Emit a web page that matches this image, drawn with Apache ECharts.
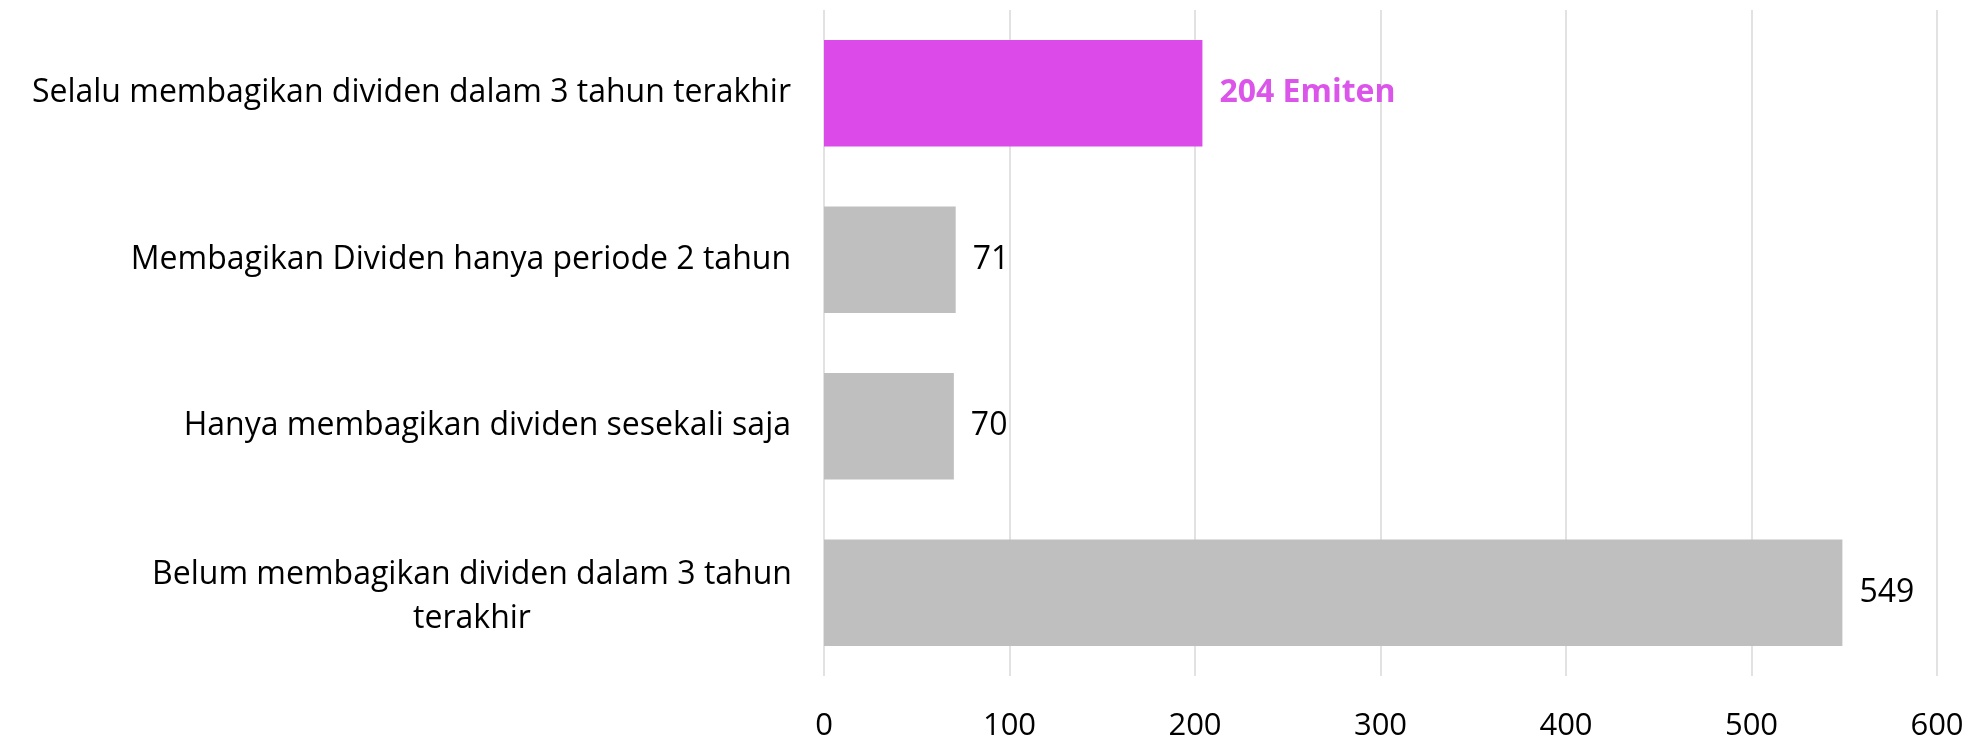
<!DOCTYPE html>
<html>
<head>
<meta charset="utf-8">
<script src="https://cdn.jsdelivr.net/npm/echarts@6/dist/echarts.min.js"></script>
<style>
html,body{margin:0;padding:0;background:#fff;}
#chart{width:1976px;height:742px;}
</style>
</head>
<body>
<div id="chart"></div>
<script>
const categories = [
  'Selalu membagikan dividen dalam 3 tahun terakhir',
  'Membagikan Dividen hanya periode 2 tahun',
  'Hanya membagikan dividen sesekali saja',
  'Belum membagikan dividen dalam 3 tahun\nterakhir'
];
const values = [204, 71, 70, 549];
const highlightIndex = 0;
const highlightUnit = 'Emiten';
const xTicks = [0, 100, 200, 300, 400, 500, 600];

const FONT = 'Open Sans';
const chart = echarts.init(document.getElementById('chart'));
chart.setOption({
  backgroundColor: '#ffffff',
  animation: false,
  grid: { left: 824, right: 39, top: 10, bottom: 66, containLabel: false },
  xAxis: {
    type: 'value',
    min: xTicks[0],
    max: xTicks[xTicks.length - 1],
    interval: xTicks[1] - xTicks[0],
    axisLine: { show: false },
    axisTick: { show: false },
    splitLine: { show: true, lineStyle: { color: '#D9D9D9', width: 1.5 } },
    axisLabel: { color: '#000', fontFamily: FONT, fontSize: 31, margin: 35 }
  },
  yAxis: {
    type: 'category',
    inverse: true,
    data: categories,
    axisLine: { show: false },
    axisTick: { show: false },
    axisLabel: {
      color: '#000',
      fontFamily: FONT,
      fontSize: 32,
      margin: 33,
      lineHeight: 44,
      formatter: function (v) {
        if (v.indexOf('\n') >= 0) return '{c|' + v + '}';
        return v;
      },
      rich: {
        c: { align: 'center', width: 638, fontFamily: FONT, fontSize: 32, lineHeight: 44, color: '#000', padding: [8, 0, 0, 0] }
      }
    }
  },
  series: [{
    type: 'bar',
    barWidth: '64%',
    data: values.map((v, i) => ({
      value: v,
      itemStyle: { color: i === highlightIndex ? '#DC4BEA' : '#BFBFBF' },
      label: i === highlightIndex ? { color: '#DB55EA', fontWeight: 'bold' } : {}
    })),
    label: {
      show: true,
      position: 'right',
      distance: 17,
      fontFamily: FONT,
      fontSize: 32,
      color: '#000',
      formatter: function (p) {
        return p.dataIndex === highlightIndex ? p.value + ' ' + highlightUnit : String(p.value);
      }
    }
  }]
});
</script>
</body>
</html>
